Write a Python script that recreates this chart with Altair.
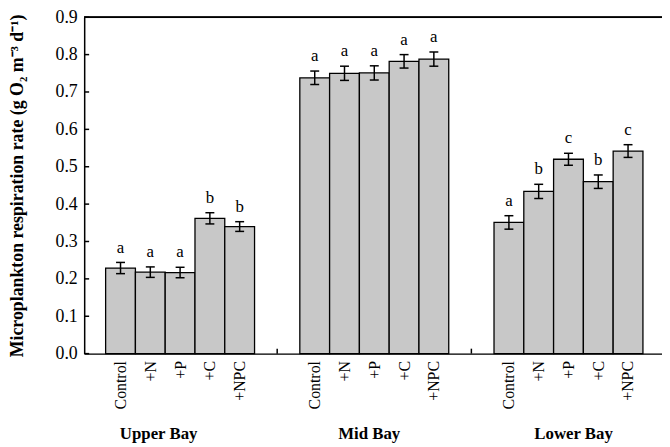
import json
import altair as alt
import pandas as pd

# ---------------- data ----------------
GROUPS = ["Upper Bay", "Mid Bay", "Lower Bay"]
TREATMENTS = ["Control", "+N", "+P", "+C", "+NPC"]

UPPER = [0.229, 0.218, 0.217, 0.362, 0.340]
UPPER_ERR = [0.015, 0.014, 0.014, 0.015, 0.013]
UPPER_LET = ["a", "a", "a", "b", "b"]

MID = [0.738, 0.750, 0.751, 0.782, 0.788]
MID_ERR = [0.018, 0.019, 0.019, 0.018, 0.019]
MID_LET = ["a", "a", "a", "a", "a"]

LOWER = [0.351, 0.434, 0.520, 0.460, 0.542]
LOWER_ERR = [0.018, 0.019, 0.016, 0.018, 0.017]
LOWER_LET = ["a", "b", "c", "b", "c"]

Y_TICKS = [0.0, 0.1, 0.2, 0.3, 0.4, 0.5, 0.6, 0.7, 0.8, 0.9]

# ---------------- layout ----------------
W, H = 584, 340
GROUP_START = 0.72   # in bar-width units
GROUP_STEP = 6.52
X_MAX = 19.4
CAP = 0.15
LABEL_SHIFT = [-0.72, -0.17, 0.17]
FONT = "Liberation Serif"

values = [UPPER, MID, LOWER]
errs = [UPPER_ERR, MID_ERR, LOWER_ERR]
lets = [UPPER_LET, MID_LET, LOWER_LET]

rows = []
for g, grp in enumerate(GROUPS):
    for t, tr in enumerate(TREATMENTS):
        xs = GROUP_START + g * GROUP_STEP + t
        v, e = values[g][t], errs[g][t]
        rows.append(dict(group=grp, treatment=tr, xs=xs, xe=xs + 1, xc=xs + 0.5,
                         cl=xs + 0.5 - CAP, cr=xs + 0.5 + CAP,
                         v=v, lo=v - e, hi=v + e, letter=lets[g][t]))
df = pd.DataFrame(rows)

grp_df = pd.DataFrame({
    "group": GROUPS,
    "xc": [GROUP_START + g * GROUP_STEP + 2.5 + LABEL_SHIFT[g] for g in range(3)],
})
sep_df = pd.DataFrame({
    "xs": [GROUP_START + g * GROUP_STEP + 5 + (GROUP_STEP - 5) / 2 for g in range(2)]
})
ytick_df = pd.DataFrame({"y": Y_TICKS})

xscale = alt.Scale(domain=[0, X_MAX], nice=False, zero=False)
yscale = alt.Scale(domain=[0, 0.9], nice=False, zero=False)

centers = df["xc"].tolist()
label_expr = f"{json.dumps(TREATMENTS)}[floor((datum.value - {GROUP_START}) % {GROUP_STEP})]"

x_axis = alt.Axis(values=centers, labelExpr=label_expr, labelAngle=270,
                  labelAlign="right", labelBaseline="middle", labelPadding=7,
                  labelFont=FONT, labelFontSize=16, labelColor="black",
                  ticks=False, grid=False, domain=True, domainColor="black",
                  domainWidth=1.5, title=None, labelOverlap=False,
                  labelBound=False, labelFlush=False)

y_axis = alt.Axis(values=Y_TICKS, format=".1f", labelFont=FONT, labelFontSize=18,
                  labelColor="black", labelPadding=7, ticks=False, grid=False,
                  domain=True, domainColor="black", domainWidth=1.5,
                  title="Microplankton respiration rate (g O\u2082 m\u207b\u00b3 d\u207b\u00b9)",
                  titleFont=FONT, titleFontSize=18, titleFontWeight="bold",
                  titleColor="black", titleAngle=270, titleX=-67, titleY=H / 2,
                  titleAlign="center", titleBaseline="middle",
                  labelOverlap=False, labelFlush=False, labelBound=False)


def X(field):
    return alt.X(field, scale=xscale, axis=x_axis)


def Y(field):
    return alt.Y(field, scale=yscale, axis=y_axis)


base = alt.Chart(df)

bars = base.mark_bar(fill="#c8c8c8", stroke="black", strokeWidth=1.3).encode(
    x=X("xs:Q"), x2="xe:Q", y=Y("v:Q"), y2=alt.datum(0))

err_v = base.mark_rule(color="black", strokeWidth=1.5).encode(
    x=X("xc:Q"), y=Y("lo:Q"), y2="hi:Q")
cap_hi = base.mark_rule(color="black", strokeWidth=1.5).encode(
    x=X("cl:Q"), x2="cr:Q", y=Y("hi:Q"))
cap_lo = base.mark_rule(color="black", strokeWidth=1.5).encode(
    x=X("cl:Q"), x2="cr:Q", y=Y("lo:Q"))

letters = base.mark_text(font=FONT, fontSize=17, color="black", fill="black",
                         baseline="alphabetic", dy=-10).encode(
    x=X("xc:Q"), y=Y("hi:Q"), text="letter:N")

group_labels = alt.Chart(grp_df).mark_text(
    font=FONT, fontSize=17, fontWeight="bold", color="black", fill="black",
    baseline="alphabetic", align="center").encode(
    x=X("xc:Q"), y=alt.value(426), text="group:N")

sep_ticks = alt.Chart(sep_df).mark_rule(color="black", strokeWidth=1.5).encode(
    x=X("xs:Q"), y=alt.value(H), y2=alt.value(H - 5))

y_ticks = alt.Chart(ytick_df).mark_rule(color="black", strokeWidth=1.5).encode(
    y=Y("y:Q"), x=alt.value(0), x2=alt.value(5))

top_line = alt.Chart(grp_df).mark_rule(color="black", strokeWidth=1.5).encode(
    y=alt.value(0), x=alt.value(0), x2=alt.value(W + 2))

chart = alt.layer(bars, err_v, cap_hi, cap_lo, letters, group_labels,
                  sep_ticks, y_ticks, top_line).properties(
    width=W, height=H,
    autosize=alt.AutoSizeParams(type="none"),
    padding={"left": 77, "top": 7, "right": 0, "bottom": 88},
).configure_view(stroke=None).configure(background="white")

chart.save("out.html", embed_options={"renderer": "svg", "actions": False})
